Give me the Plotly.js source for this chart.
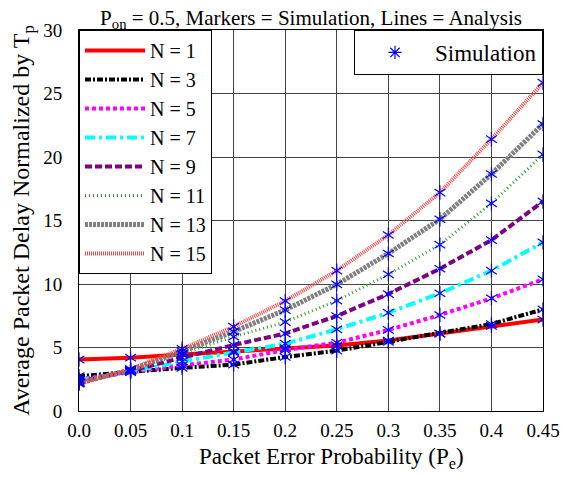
<!DOCTYPE html>
<html>
<head>
<meta charset="utf-8">
<script src="https://cdn.plot.ly/plotly-3.0.1.min.js"></script>
<style>html,body{margin:0;padding:0;background:#fff;}#chart{width:561px;height:477px;}</style>
</head>
<body>
<div id="chart"></div>
<script>
const pe = [0.0, 0.05, 0.1, 0.15, 0.2, 0.25, 0.3, 0.35, 0.4, 0.45];
const seriesNames = ["N = 1", "N = 3", "N = 5", "N = 7", "N = 9", "N = 11", "N = 13", "N = 15"];
const delayN1  = [4.05, 4.2, 4.45, 4.7, 4.95, 5.15, 5.55, 6.1, 6.7, 7.2];
const delayN3  = [2.75, 3.1, 3.4, 3.65, 4.25, 4.75, 5.45, 6.1, 6.85, 8.0];
const delayN5  = [2.5, 3.05, 3.6, 4.05, 4.8, 5.38, 6.38, 7.56, 8.87, 10.37];
const delayN7  = [2.4, 3.1, 3.9, 4.6, 5.3, 6.43, 7.74, 9.27, 11.05, 13.28];
const delayN9  = [2.3, 3.15, 4.2, 5.2, 6.1, 7.48, 9.21, 11.2, 13.46, 16.5];
const delayN11 = [2.25, 3.2, 4.5, 5.85, 7.0, 8.69, 10.76, 13.1, 16.35, 20.2];
const delayN13 = [2.2, 3.25, 4.7, 6.25, 7.95, 9.97, 12.4, 15.1, 18.66, 22.6];
const delayN15 = [2.15, 3.3, 4.9, 6.64, 8.66, 11.05, 13.86, 17.2, 21.4, 25.85];
const xTickVals = [0, 0.05, 0.1, 0.15, 0.2, 0.25, 0.3, 0.35, 0.4, 0.45];
const xTickText = ["0.0", "0.05", "0.1", "0.15", "0.2", "0.25", "0.3", "0.35", "0.4", "0.45"];
const yTickVals = [0, 5, 10, 15, 20, 25, 30];

const allDelays = [delayN1, delayN3, delayN5, delayN7, delayN9, delayN11, delayN13, delayN15];
const lineStyles = [
  {color: "#ff0000", width: 4, dash: "solid"},
  {color: "#000000", width: 4, dash: "6px,2px,2px,2px"},
  {color: "#ff00ff", width: 4, dash: "4px,3px"},
  {color: "#00ffff", width: 4, dash: "10px,4px,3px,4px"},
  {color: "#800080", width: 4, dash: "7px,3px"},
  {color: "#2e9a2e", width: 3, dash: "1px,3px"},
  {color: "#808080", width: 5, dash: "3px,1px"},
  {color: "#ff4444", width: 4, dash: "1px,1px"}
];

const FONT = "Liberation Serif";
const traces = [];
allDelays.forEach((d, i) => {
  traces.push({x: pe, y: d, type: "scatter", mode: "lines", name: seriesNames[i],
    line: lineStyles[i], legend: "legend", hoverinfo: "skip"});
});
allDelays.forEach((d, i) => {
  ["y-up-open", "y-down-open"].forEach(sym => {
    traces.push({x: pe, y: d, type: "scatter", mode: "markers", showlegend: false,
      marker: {symbol: sym, size: 9, color: "#0000ff", line: {color: "#0000ff", width: 1.2}}});
  });
});
traces.push({x: [null], y: [null], type: "scatter", mode: "markers", name: "Simulation",
  legend: "legend2",
  marker: {symbol: "asterisk-open", size: 11, color: "#0000ff", line: {color: "#0000ff", width: 1.2}}});

const layout = {
  width: 561, height: 477,
  margin: {l: 79, r: 18, t: 30, b: 66},
  paper_bgcolor: "#ffffff", plot_bgcolor: "#ffffff",
  font: {family: FONT, color: "#000", size: 20},
  title: {text: "P<sub>on</sub> = 0.5, Markers = Simulation, Lines = Analysis",
    font: {family: FONT, size: 21, color: "#000"}, x: 0.5, xref: "paper", y: 0.963, yanchor: "middle"},
  xaxis: {range: [0, 0.45], tickvals: xTickVals, ticktext: xTickText,
    showgrid: true, gridcolor: "#444", gridwidth: 1, zeroline: false,
    showline: true, linecolor: "#000", linewidth: 1, mirror: true, ticks: "",
    ticklabelstandoff: 2,
    tickfont: {family: FONT, size: 19}},
  yaxis: {range: [0, 30], tickvals: yTickVals,
    showgrid: true, gridcolor: "#444", gridwidth: 1, zeroline: false,
    showline: true, linecolor: "#000", linewidth: 1, mirror: true, ticks: "",
    ticklabelstandoff: 12,
    tickfont: {family: FONT, size: 19},
    title: {text: "Average Packet Delay Normalized by T<sub>p</sub>", font: {family: FONT, size: 24}, standoff: 6}},
  annotations: [{text: "Packet Error Probability (P<sub>e</sub>)", xref: "paper", yref: "paper",
    x: 0.545, y: -0.123, xanchor: "center", yanchor: "middle", showarrow: false,
    font: {family: FONT, size: 23, color: "#000"}}],
  legend: {x: 0, xref: "paper", y: 1, yref: "paper", xanchor: "left", yanchor: "top",
    bgcolor: "#ffffff", bordercolor: "#000", borderwidth: 1,
    font: {family: FONT, size: 20}, tracegroupgap: 0, itemwidth: 60},
  legend2: {x: 1, xref: "paper", y: 1, yref: "paper", xanchor: "right", yanchor: "top",
    bgcolor: "#ffffff", bordercolor: "#000", borderwidth: 1,
    font: {family: FONT, size: 23}, itemwidth: 70},
  showlegend: true
};

Plotly.newPlot("chart", traces, layout, {displayModeBar: false, staticPlot: true});
</script>
</body>
</html>
